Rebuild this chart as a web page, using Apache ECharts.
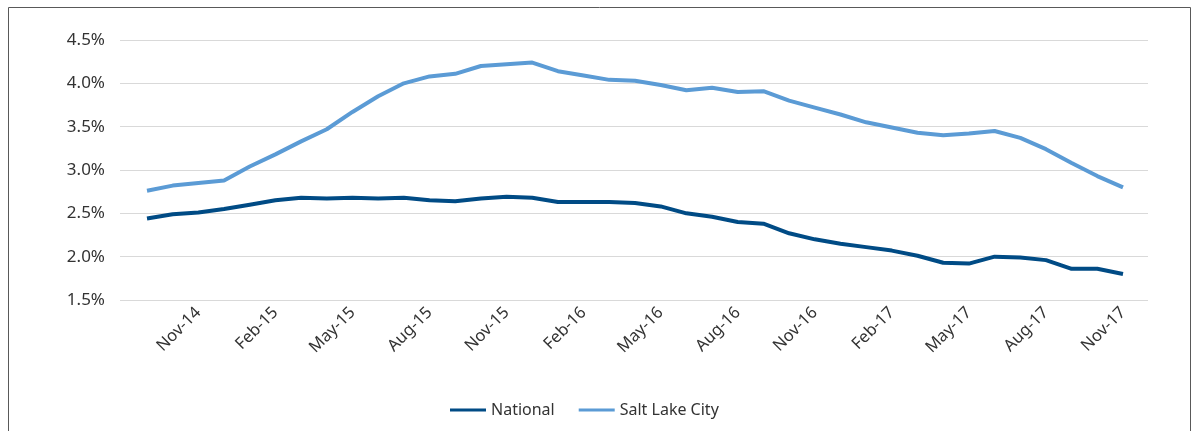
<!DOCTYPE html>
<html>
<head>
<meta charset="utf-8">
<script src="https://cdn.jsdelivr.net/npm/echarts@6/dist/echarts.min.js"></script>
<style>
html,body{margin:0;padding:0;background:#fff;}
#chart{width:1198px;height:431px;}
</style>
</head>
<body>
<div id="chart"></div>
<script>
const categories = ['Sep-14','Oct-14','Nov-14','Dec-14','Jan-15','Feb-15','Mar-15','Apr-15','May-15','Jun-15','Jul-15','Aug-15','Sep-15','Oct-15','Nov-15','Dec-15','Jan-16','Feb-16','Mar-16','Apr-16','May-16','Jun-16','Jul-16','Aug-16','Sep-16','Oct-16','Nov-16','Dec-16','Jan-17','Feb-17','Mar-17','Apr-17','May-17','Jun-17','Jul-17','Aug-17','Sep-17','Oct-17','Nov-17'];
const nationalValues = [2.44,2.49,2.51,2.55,2.60,2.65,2.68,2.67,2.68,2.67,2.68,2.65,2.64,2.67,2.69,2.68,2.63,2.63,2.63,2.62,2.58,2.50,2.46,2.40,2.38,2.27,2.20,2.15,2.11,2.07,2.01,1.93,1.92,2.00,1.99,1.96,1.86,1.86,1.80];
const saltLakeValues = [2.76,2.82,2.85,2.88,3.04,3.18,3.33,3.47,3.67,3.85,4.00,4.08,4.11,4.20,4.22,4.24,4.14,4.09,4.04,4.03,3.98,3.92,3.95,3.90,3.91,3.80,3.72,3.64,3.55,3.49,3.43,3.40,3.42,3.45,3.37,3.24,3.08,2.93,2.80];
const seriesNames = ['National','Salt Lake City'];
const yTicks = {min:1.5, max:4.5, step:0.5};

const chart = echarts.init(document.getElementById('chart'));
const font = '"Noto Sans", sans-serif';
chart.setOption({
  animation:false,
  backgroundColor:'#fff',
  graphic:[{
    type:'polyline', silent:true,
    shape:{points:[[8.5,440],[8.5,7.5],[1190.5,7.5],[1190.5,440]]},
    style:{stroke:'#595959', lineWidth:1, fill:null}
  }],
  grid:[
    {left:147, right:75, top:40, bottom:131},
    {left:120, right:50, top:40, bottom:131}
  ],
  legend:{
    top:397, left:445,
    itemWidth:36, itemHeight:3, itemGap:24,
    icon:'rect',
    textStyle:{fontFamily:font, fontSize:16, color:'#333'},
    data:seriesNames
  },
  xAxis:[{
    type:'category', data:categories, boundaryGap:false, gridIndex:0,
    axisLine:{show:false}, axisTick:{show:false},
    axisLabel:{
      rotate:45, margin:10, fontFamily:font, fontSize:16.5, color:'#333',
      interval:function(i){return i%3===2;}
    }
  },{
    type:'value', gridIndex:1, show:false, min:0, max:1
  }],
  yAxis:[{
    type:'value', gridIndex:0, min:yTicks.min, max:yTicks.max, interval:yTicks.step,
    axisLine:{show:false}, axisTick:{show:false},
    axisLabel:{margin:42, fontFamily:font, fontSize:17, color:'#333',
      formatter:function(v){return v.toFixed(1)+'%';}},
    splitLine:{show:false}
  },{
    type:'value', gridIndex:1, min:yTicks.min, max:yTicks.max, interval:yTicks.step,
    axisLine:{show:false}, axisTick:{show:false}, axisLabel:{show:false},
    splitLine:{lineStyle:{color:'#d9d9d9', width:1}}
  }],
  series:[
    {name:seriesNames[0], type:'line', data:nationalValues, showSymbol:false, z:3,
     lineStyle:{color:'#004B85', width:4}, itemStyle:{color:'#004B85'}},
    {name:seriesNames[1], type:'line', data:saltLakeValues, showSymbol:false, z:3,
     lineStyle:{color:'#5B9BD5', width:4}, itemStyle:{color:'#5B9BD5'}}
  ]
});
</script>
</body>
</html>
